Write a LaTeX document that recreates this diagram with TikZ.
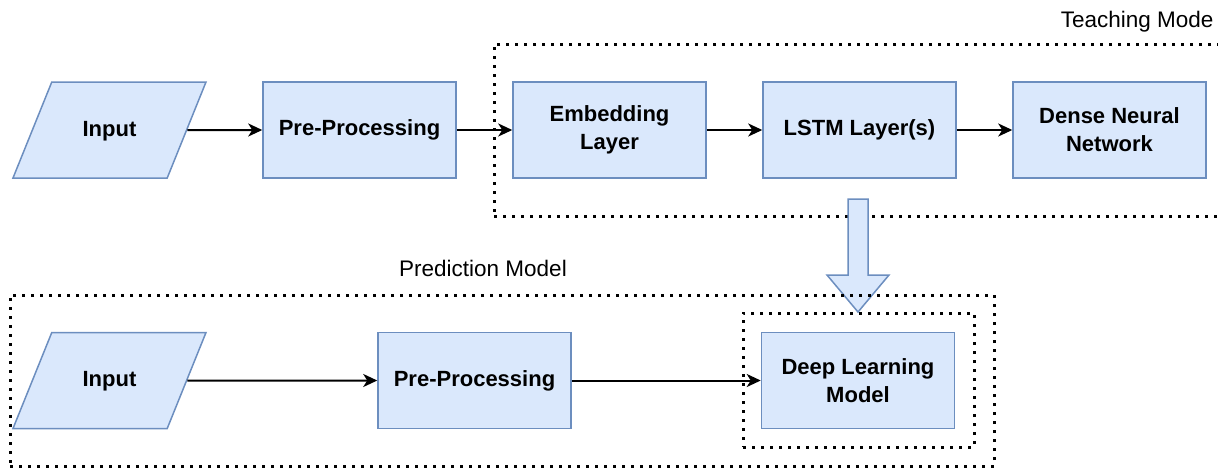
\documentclass[tikz,border=0pt]{standalone}
\usepackage{fontspec}
\setmainfont{Liberation Sans}
\usetikzlibrary{shapes.geometric,arrows.meta}
\definecolor{boxfill}{HTML}{DAE8FC}
\definecolor{boxline}{HTML}{6C8EBF}
\tikzset{
  blk/.style={draw=boxline,fill=boxfill,line width=1.5pt,minimum width=193pt,minimum height=96pt,
    inner sep=0pt,align=center,font=\fontsize{22}{28}\selectfont\bfseries},
  iobox/.style={blk,trapezium,trapezium left angle=68,trapezium right angle=112,trapezium stretches body=true,
    text height=16pt,text depth=4pt,inner ysep=38pt},
  grp/.style={draw,line width=3pt,dash pattern=on 3pt off 6pt,inner sep=0pt},
  grplabel/.style={font=\fontsize{22.5}{27}\selectfont},
  flow/.style={-{Stealth[length=14pt,width=13pt,inset=4pt]},line width=2pt},
  bigarrow/.style={draw=boxline,fill=boxfill,line width=1.5pt,line join=miter}
}
\begin{document}
\begin{tikzpicture}[x=1pt,y=-1pt]
\useasboundingbox (0,0) rectangle (1218,469);
\node[grp,minimum width=736pt,minimum height=172pt] (teach) at (862,130) {};
\node[grplabel,anchor=east] (teachlbl) at (1217,22) {Teaching Mode};
\node[iobox] (in1) at (109.5,130) {Input};
\node[blk] (pre1) at (359.5,130) {Pre-Processing};
\node[blk] (emb) at (609.5,130) {Embedding\\Layer};
\node[blk] (lstm) at (859.5,130) {LSTM Layer(s)};
\node[blk] (dense) at (1109.5,130) {Dense Neural\\Network};
\draw[flow] (in1) -- (pre1);
\draw[flow] (pre1) -- (emb);
\draw[flow] (emb) -- (lstm);
\draw[flow] (lstm) -- (dense);
\coordinate (transfer) at (858,199);
\draw[bigarrow] (transfer) ++(-10,0) -- ++(0,76) -- ++(-21,0) -- ++(31,37) -- ++(31,-37) -- ++(-21,0) -- ++(0,-76) -- cycle;
\node[grp,minimum width=984pt,minimum height=171pt] (predict) at (502,380.5) {};
\node[grplabel] (predictlbl) at (483,268) {Prediction Model};
\node[grp,minimum width=231pt,minimum height=134pt] (inner) at (858.5,380) {};
\node[iobox] (in2) at (109.5,380.5) {Input};
\node[blk] (pre2) at (474.5,380.5) {Pre-Processing};
\node[blk] (dlm) at (858,380.5) {Deep Learning\\Model};
\draw[flow] (in2) -- (pre2);
\draw[flow] (pre2) -- (dlm);
\end{tikzpicture}
\end{document}
